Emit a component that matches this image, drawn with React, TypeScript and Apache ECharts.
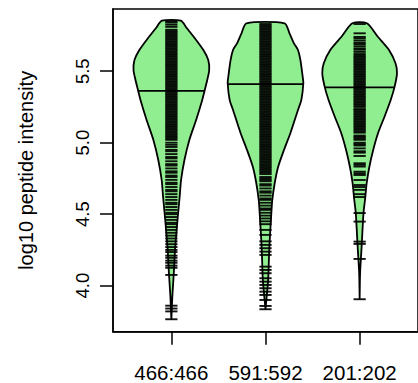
import React, { useEffect, useRef } from 'react';
import * as echarts from 'echarts';

const categories = ['466:466', '591:592', '201:202'];
const yTicks = [4.0, 4.5, 5.0, 5.5];
const medians = [5.362, 5.41, 5.387];

// violin outlines: value levels and half-widths (in x units)
const densityY1 = [5.853, 5.8, 5.741, 5.648, 5.578, 5.508, 5.438, 5.369, 5.299, 5.159, 5.019, 4.879, 4.739, 4.62, 4.508, 4.271, 4.089, 3.921, 3.76];
const densityW1 = [0.1, 0.165, 0.237, 0.34, 0.392, 0.402, 0.381, 0.355, 0.328, 0.263, 0.191, 0.139, 0.103, 0.088, 0.072, 0.041, 0.026, 0.01, 0.0];
const densityY2 = [5.835, 5.765, 5.695, 5.648, 5.578, 5.462, 5.417, 5.299, 5.229, 5.068, 4.949, 4.83, 4.718, 4.599, 4.508, 4.271, 4.04, 3.835];
const densityW2 = [0.203, 0.255, 0.302, 0.345, 0.371, 0.395, 0.402, 0.381, 0.345, 0.265, 0.196, 0.134, 0.098, 0.072, 0.062, 0.041, 0.028, 0.0];
const densityY3 = [5.835, 5.741, 5.648, 5.555, 5.485, 5.385, 5.299, 5.18, 5.068, 4.949, 4.83, 4.718, 4.599, 4.508, 4.271, 4.089, 3.905];
const densityW3 = [0.077, 0.193, 0.312, 0.381, 0.397, 0.369, 0.33, 0.263, 0.196, 0.144, 0.103, 0.075, 0.057, 0.041, 0.021, 0.005, 0.0];

// individual observations (bean lines)
const values1 = [
  5.85, 5.84, 5.825, 5.81,
  5.79, 5.78, 5.77, 5.76, 5.75, 5.74, 5.73, 5.72, 5.71, 5.70,
  5.69, 5.68, 5.67, 5.66, 5.65, 5.64, 5.63, 5.62, 5.61, 5.60,
  5.59, 5.58, 5.57, 5.56, 5.55, 5.54, 5.53, 5.52, 5.51, 5.50,
  5.49, 5.48, 5.47, 5.46, 5.45, 5.44, 5.43, 5.42, 5.41, 5.40,
  5.39, 5.38, 5.37, 5.36, 5.35, 5.34, 5.33, 5.32, 5.31, 5.30,
  5.29, 5.28, 5.27, 5.26, 5.25, 5.24, 5.23, 5.22, 5.21, 5.20,
  5.19, 5.18, 5.17, 5.16, 5.15, 5.14, 5.13, 5.12, 5.11, 5.10,
  5.09, 5.08, 5.07, 5.06, 5.05, 5.04, 5.03, 5.02,
  5.0, 4.985, 4.97, 4.95, 4.94, 4.92, 4.9, 4.89, 4.87, 4.85, 4.84, 4.82, 4.8, 4.79,
  4.77, 4.76, 4.74, 4.72, 4.71, 4.69, 4.67, 4.66, 4.64, 4.62, 4.6, 4.58, 4.57, 4.55,
  4.53, 4.51, 4.5, 4.48, 4.46, 4.44, 4.43, 4.41, 4.39, 4.37, 4.35, 4.33, 4.31, 4.29,
  4.27, 4.25, 4.235, 4.21, 4.195, 4.175, 4.16, 4.14, 4.125, 4.075,
  3.86, 3.84, 3.82, 3.765,
];
const values2 = [
  5.83, 5.82, 5.81, 5.80, 5.79, 5.78, 5.77, 5.76, 5.75, 5.74, 5.73, 5.72, 5.71, 5.70,
  5.69, 5.68, 5.67, 5.66, 5.65, 5.64, 5.63, 5.62, 5.61, 5.60,
  5.59, 5.58, 5.57, 5.56, 5.55, 5.54, 5.53, 5.52, 5.51, 5.50,
  5.49, 5.48, 5.47, 5.46, 5.45, 5.44, 5.43, 5.42, 5.41, 5.40,
  5.39, 5.38, 5.37, 5.36, 5.35, 5.34, 5.33, 5.32, 5.31, 5.30,
  5.29, 5.28, 5.27, 5.26, 5.25, 5.24, 5.23, 5.22, 5.21, 5.20,
  5.19, 5.18, 5.17, 5.16, 5.15, 5.14, 5.13, 5.12, 5.11, 5.10,
  5.09, 5.08, 5.07, 5.06, 5.05, 5.04, 5.03, 5.02, 5.01, 5.00,
  4.99, 4.98, 4.97, 4.96, 4.95, 4.94, 4.93, 4.92, 4.91, 4.90,
  4.89, 4.88, 4.87, 4.86, 4.85, 4.84, 4.83, 4.82,
  4.81, 4.8, 4.79, 4.78, 4.76, 4.75, 4.74, 4.73, 4.71, 4.7, 4.68, 4.66, 4.65, 4.63, 4.61, 4.6,
  4.58, 4.56, 4.54, 4.53, 4.51, 4.49, 4.47, 4.45, 4.43,
  4.39, 4.355, 4.31, 4.285, 4.262, 4.238, 4.215, 4.133, 4.11, 4.087, 4.052, 4.028,
  4.005, 3.982, 3.958, 3.935, 3.9, 3.858, 3.835,
];
const values3 = [
  5.83, 5.765,
  5.74, 5.73, 5.715, 5.7, 5.69, 5.675, 5.66, 5.65, 5.635, 5.62, 5.61, 5.6, 5.59, 5.58,
  5.57, 5.56, 5.55, 5.54, 5.53, 5.52, 5.51, 5.5, 5.49, 5.48, 5.47, 5.46, 5.45, 5.44,
  5.43, 5.42, 5.41, 5.4, 5.39, 5.38, 5.37, 5.36, 5.35, 5.34, 5.33, 5.32,
  5.31, 5.3, 5.29, 5.28, 5.27, 5.26, 5.25, 5.235, 5.23, 5.22, 5.21, 5.2, 5.19, 5.18, 5.17, 5.16, 5.15, 5.14, 5.13,
  5.12, 5.11, 5.1, 5.09, 5.08, 5.07,
  5.05, 5.04, 5.03, 5.02, 5.0, 4.99, 4.98, 4.96, 4.94, 4.93, 4.907, 4.856, 4.845, 4.833, 4.797, 4.785, 4.774, 4.739,
  4.704, 4.69, 4.67, 4.64, 4.62,
  4.508, 4.448, 4.308, 4.292, 4.187, 3.905,
];

const densityY = [densityY1, densityY2, densityY3];
const densityW = [densityW1, densityW2, densityW3];
const beanValues = [values1, values2, values3];

const FONT = '"Liberation Sans", Arial, Helvetica, sans-serif';
const LINE_HALF = 0.065;

function widthAt(ys: number[], ws: number[], v: number): number {
  for (let k = 0; k < ys.length - 1; k++) {
    const a = ys[k];
    const b = ys[k + 1];
    if (v <= a && v >= b) {
      const t = (a - v) / (a - b);
      return ws[k] + t * (ws[k + 1] - ws[k]);
    }
  }
  return 0;
}

export default function App() {
  const ref = useRef<HTMLDivElement>(null);
  useEffect(() => {
    const chart = echarts.init(ref.current!, null, { renderer: 'svg' });
    const option: any = {
      animation: false,
      backgroundColor: '#ffffff',
      grid: {
        left: 113,
        top: 9,
        width: 314,
        height: 322.7,
        show: true,
        borderColor: '#000',
        borderWidth: 1.5,
        backgroundColor: 'transparent',
      },
      xAxis: {
        type: 'value',
        min: 0.38,
        max: 3.62,
        splitLine: { show: false },
        axisLine: { show: true, lineStyle: { color: '#000', width: 1.5 } },
        axisTick: { show: true, customValues: [1, 2, 3], length: 13, lineStyle: { color: '#000', width: 1.5 } },
        axisLabel: {
          customValues: [1, 2, 3],
          formatter: (v: number) => categories[Math.round(v) - 1],
          fontSize: 20.5,
          fontFamily: FONT,
          color: '#000',
          margin: 30,
        },
      },
      yAxis: {
        type: 'value',
        min: 3.678,
        max: 5.935,
        splitLine: { show: false },
        axisLine: { show: true, lineStyle: { color: '#000', width: 1.5 } },
        axisTick: { show: true, customValues: yTicks, length: 13, lineStyle: { color: '#000', width: 1.5 } },
        axisLabel: {
          customValues: yTicks,
          formatter: (v: number) => v.toFixed(1),
          rotate: 90,
          fontSize: 18.5,
          fontFamily: FONT,
          color: '#000',
          margin: 21,
        },
        name: 'log10 peptide intensity',
        nameLocation: 'middle',
        nameGap: 77,
        nameTextStyle: { fontSize: 20, fontFamily: FONT, color: '#000' },
      },
      series: [
        {
          type: 'custom',
          coordinateSystem: 'cartesian2d',
          data: categories.map((c, i) => [i + 1, medians[i]]),
          renderItem: (params: any, api: any) => {
            const i = params.dataIndex;
            const cx = i + 1;
            const ys = densityY[i];
            const ws = densityW[i];
            const left: number[][] = [];
            const right: number[][] = [];
            for (let k = 0; k < ys.length; k++) {
              left.push(api.coord([cx - ws[k], ys[k]]));
              right.push(api.coord([cx + ws[k], ys[k]]));
            }
            const points = left.concat(right.reverse());
            const children: any[] = [
              {
                type: 'polygon',
                shape: { points, smooth: 0.25 },
                style: { fill: '#90EE90', stroke: '#000', lineWidth: 1.8 },
              },
            ];
            for (const v of beanValues[i]) {
              const p1 = api.coord([cx - LINE_HALF, v]);
              const p2 = api.coord([cx + LINE_HALF, v]);
              children.push({
                type: 'line',
                shape: { x1: p1[0], y1: p1[1], x2: p2[0], y2: p2[1] },
                style: { stroke: 'rgba(0,0,0,0.92)', lineWidth: 1.9 },
              });
            }
            const mw = widthAt(ys, ws, medians[i]);
            const m1 = api.coord([cx - mw, medians[i]]);
            const m2 = api.coord([cx + mw, medians[i]]);
            children.push({
              type: 'line',
              shape: { x1: m1[0], y1: m1[1], x2: m2[0], y2: m2[1] },
              style: { stroke: '#000', lineWidth: 1.8 },
            });
            return { type: 'group', children };
          },
        },
      ],
    };
    chart.setOption(option);
    return () => chart.dispose();
  }, []);
  return (
    <div
      ref={ref}
      style={{ position: 'fixed', left: 0, top: 0, width: 418, height: 383, background: '#fff' }}
    />
  );
}
